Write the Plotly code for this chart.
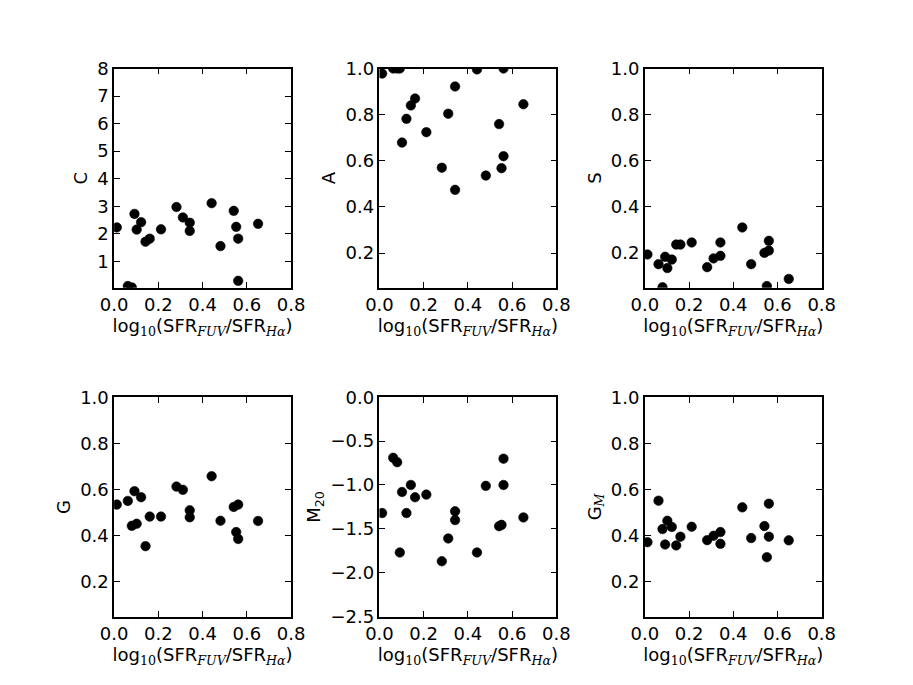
"""
Morphology parameters against log10(SFR_FUV / SFR_Halpha), six panels.
"""

import plotly.graph_objects as go

# shared x value for every galaxy
log_sfr_ratio = [0.012, 0.062, 0.080, 0.092, 0.102, 0.122, 0.142, 0.161, 0.212, 0.282,
                 0.311, 0.342, 0.342, 0.441, 0.481, 0.541, 0.552, 0.561, 0.561, 0.651]

conc_c = [2.23, 0.10, 0.05, 2.72, 2.15, 2.42, 1.71, 1.82, 2.16, 2.97,
          2.59, 2.40, 2.10, 3.11, 1.55, 2.83, 2.25, 1.82, 0.29, 2.36]
asym_a = [0.978, 1.0, 1.0, 1.0, 0.679, 0.782, 0.840, 0.870, 0.724, 0.570,
          0.804, 0.922, 0.474, 0.996, 0.536, 0.759, 0.568, 0.620, 1.0, 0.845]
smooth_s = [0.194, 0.152, 0.052, 0.184, 0.135, 0.172, 0.237, 0.237, 0.246, 0.139,
            0.177, 0.246, 0.188, 0.311, 0.152, 0.201, 0.057, 0.211, 0.253, 0.088]
gini_g = [0.535, 0.551, 0.443, 0.593, 0.452, 0.567, 0.355, 0.483, 0.483, 0.613,
          0.599, 0.510, 0.480, 0.658, 0.465, 0.525, 0.416, 0.535, 0.386, 0.464]
m20 = [-1.32, -0.69, -0.74, -1.77, -1.08, -1.32, -1.00, -1.14, -1.11, -1.87,
       -1.61, -1.30, -1.40, -1.77, -1.01, -1.47, -1.455, -0.70, -1.00, -1.37]
gini_m = [0.372, 0.552, 0.429, 0.362, 0.465, 0.438, 0.358, 0.396, 0.439, 0.381,
          0.400, 0.416, 0.365, 0.523, 0.390, 0.442, 0.307, 0.539, 0.396, 0.380]

panel_labels = ["C", "A", "S", "G", "M<sub>20</sub>",
                'G<sub><span style="font-family:DejaVu Serif"><i>M</i></span></sub>']
panel_values = [conc_c, asym_a, smooth_s, gini_g, m20, gini_m]
y_ranges = [[0.04, 8], [0.05, 1.0], [0.05, 1.0], [0.05, 1.0], [-2.5, 0.0], [0.05, 1.0]]
y_dticks = [1, 0.2, 0.2, 0.2, 0.5, 0.2]
y_formats = ["d", ".1f", ".1f", ".1f", ".1f", ".1f"]

serif = 'style="font-family:DejaVu Serif"'
x_title = (f"log<sub><span {serif}>10</span></sub>(SFR<sub><span {serif}><i>FUV</i></span></sub>"
           f"/SFR<sub><span {serif}><i>Hα</i></span></sub>)")

# matplotlib-like grid: left .125, right .9, bottom .1, top .9, wspace=hspace=.5
col_domains = [[0.125, 0.31875], [0.415625, 0.609375], [0.70625, 0.9]]
row_domains = [[0.58, 0.9], [0.1, 0.42]]

font = dict(family="DejaVu Sans", size=18, color="black")
fig = go.Figure()
layout = {}

for i, (label, vals) in enumerate(zip(panel_labels, panel_values)):
    n = "" if i == 0 else str(i + 1)
    row, col = divmod(i, 3)
    fig.add_trace(
        go.Scatter(
            x=log_sfr_ratio,
            y=vals,
            mode="markers",
            marker=dict(color="black", size=9.5, line=dict(color="black", width=0.6)),
            xaxis="x" + n,
            yaxis="y" + n,
            showlegend=False,
        )
    )
    common = dict(
        showline=True, linecolor="black", linewidth=1.5, mirror="ticks",
        ticks="inside", ticklen=6, tickwidth=1, tickcolor="black",
        showgrid=False, zeroline=False, tickfont=font, automargin=False,
    )
    layout["xaxis" + n] = dict(
        domain=col_domains[col], anchor="y" + n, range=[0, 0.8],
        tick0=0, dtick=0.2, tickformat=".1f",
        title=dict(text=x_title, font=font, standoff=0), **common,
    )
    layout["yaxis" + n] = dict(
        domain=row_domains[row], anchor="x" + n, range=y_ranges[i],
        tick0=0, dtick=y_dticks[i], tickformat=y_formats[i],
        title=dict(text=label, font=font, standoff=5), **common,
    )

fig.update_layout(
    template="none",
    width=913,
    height=685,
    margin=dict(l=0, r=0, t=0, b=0),
    paper_bgcolor="white",
    plot_bgcolor="white",
    font=font,
    **layout,
)

# drop the browser's default body margin so the figure sits at the page corner
fig.write_html(
    "out.html",
    config={"displayModeBar": False},
    post_script="document.body.style.margin='0';",
)
